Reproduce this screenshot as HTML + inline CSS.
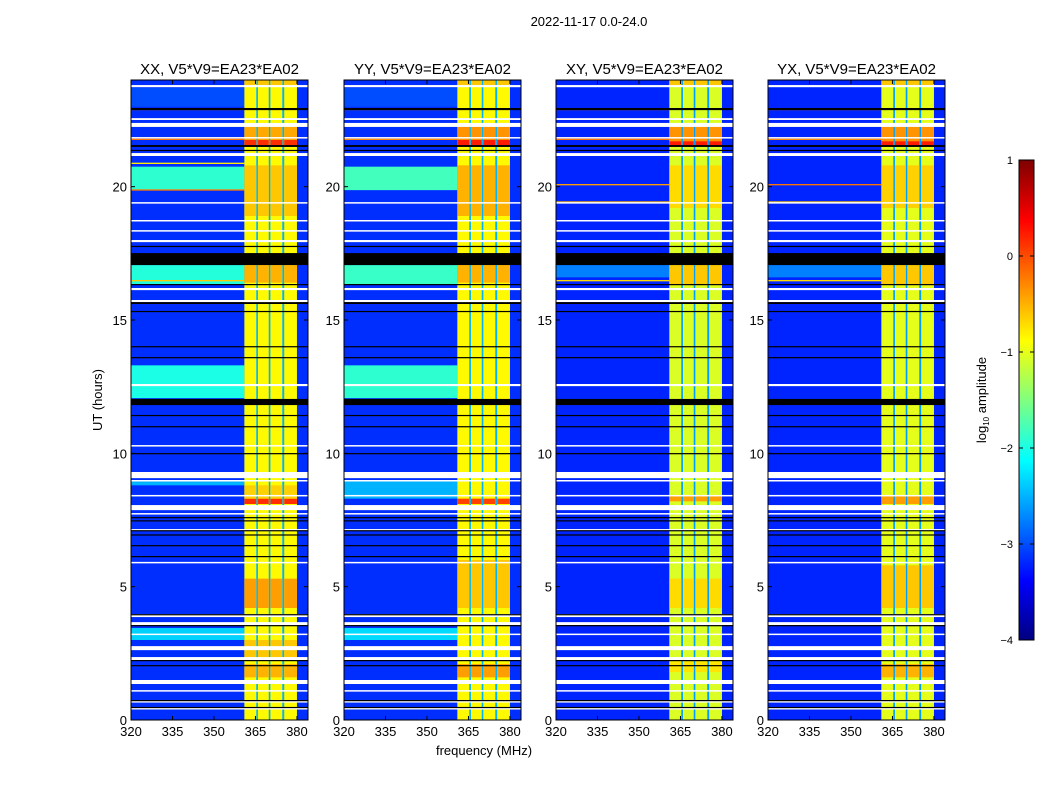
<!DOCTYPE html>
<html><head><meta charset="utf-8"><style>
body{margin:0;background:#fff;width:1050px;height:800px;overflow:hidden;font-family:"Liberation Sans","DejaVu Sans",sans-serif}
svg text{font-family:"Liberation Sans","DejaVu Sans",sans-serif}
</style></head><body>
<svg id="chart" width="1050" height="800" viewBox="0 0 1050 800" xmlns="http://www.w3.org/2000/svg">
<text x="589" y="26" font-size="13" text-anchor="middle">2022-11-17 0.0-24.0</text>
<text x="102" y="400" font-size="13" text-anchor="middle" transform="rotate(-90 102 400)">UT (hours)</text>
<text x="484" y="755" font-size="13" text-anchor="middle">frequency (MHz)</text>
<g id="panels"></g>
<g id="cbar"></g>
</svg>
<script>
// ---- data ----
const panelTitles = ["XX, V5*V9=EA23*EA02","YY, V5*V9=EA23*EA02","XY, V5*V9=EA23*EA02","YX, V5*V9=EA23*EA02"];
const panelLefts = [131,344,556,768];
const freqTicks = [320,335,350,365,380];
const timeTicks = [0,5,10,15,20];
const cbarTicks = [1,0,-1,-2,-3,-4];
// RFI sub-band frequency edges (MHz)
const rfiCols = [[361,365.3],[365.9,369.8],[370.4,374.7],[375.4,380]];
// flagged (white) time ranges, hours
const whiteRows = [[23.73,23.81],[22.5,22.57],[22.24,22.39],[21.83,21.86],[21.15,21.26],[19.38,19.42],[18.71,18.75],[18.33,18.37],[17.92,18.0],[16.12,16.2],[15.67,15.75],[12.52,12.6],[10.27,10.31],[9.07,9.3],[8.96,9.0],[8.4,8.44],[7.87,8.06],[7.72,7.76],[7.12,7.16],[5.89,5.93],[3.86,3.97],[3.56,3.67],[3.2,3.24],[2.62,2.77],[2.25,2.36],[1.35,1.5],[1.08,1.12],[0.67,0.71],[0.41,0.45]];
// black (zero) time ranges, hours
const blackRows = [[22.87,22.95],[21.49,21.56],[21.34,21.38],[17.74,17.78],[17.06,17.51],[16.31,16.35],[15.6,15.67],[15.3,15.34],[13.98,14.02],[13.57,13.61],[11.81,12.04],[11.4,11.44],[10.98,11.02],[9.97,10.01],[7.57,7.61],[7.45,7.49],[7.08,7.12],[6.92,6.96],[6.52,6.56],[6.11,6.15],[3.93,3.97],[3.52,3.56],[2.21,2.25],[2.02,2.06],[0.71,0.75],[0.45,0.49]];
// low-frequency background level per panel (log10 amplitude)
const lowBase = [-3.15,-3.15,-3.2,-3.2];
const rfiBase = [-0.85,-0.85,-1.05,-1.0];
const gapLevel = [-2.5,-2.5,-2.6,-2.6];
// low-frequency bands per panel: [t0,t1,level]
const lowBands = [
 [[23.0,23.7,-3.0],[22.87,22.92,-0.3],[21.75,21.8,-0.2],[19.87,20.75,-1.9],[19.85,19.9,-0.2],[20.85,20.9,-0.8],[16.35,17.06,-1.95],[16.45,16.5,-0.6],[12.07,13.3,-2.0],[8.8,9.0,-2.5],[3.0,3.45,-2.35]],
 [[23.0,23.7,-3.0],[22.87,22.92,-0.4],[21.75,21.8,-0.3],[19.87,20.75,-1.8],[16.35,17.06,-1.85],[12.07,13.3,-1.9],[8.3,9.0,-2.5],[3.0,3.45,-2.3]],
 [[22.87,22.92,-0.4],[21.75,21.8,-0.2],[20.05,20.1,-0.4],[19.4,19.45,-0.5],[16.45,16.5,-0.7],[16.6,17.06,-2.75]],
 [[22.87,22.92,-0.4],[21.75,21.8,-0.3],[20.05,20.1,-0.2],[19.4,19.45,-0.6],[16.45,16.5,-0.7],[16.6,17.06,-2.75]]
];
// RFI band levels per panel: [t0,t1,level]
const rfiBands = [
 [[23.8,24,-0.6],[21.5,22.3,-0.45],[21.5,21.75,0.15],[18.9,20.8,-0.6],[16.4,17.06,-0.5],[8.1,8.3,0.15],[8.3,8.8,-0.65],[4.2,5.3,-0.4],[2.3,3.0,-0.6],[1.6,2.1,-0.5]],
 [[23.8,24,-0.6],[21.5,22.3,-0.35],[21.5,21.75,0.25],[18.9,20.8,-0.5],[16.4,17.06,-0.5],[8.1,8.3,0.05],[4.2,6.0,-0.6],[1.6,2.1,-0.4]],
 [[23.8,24,-0.6],[21.5,22.3,-0.35],[21.5,21.7,0.25],[19.2,20.8,-0.7],[16.3,17.06,-0.6],[8.2,8.4,-0.4],[4.2,5.3,-0.7],[1.8,2.2,-0.75]],
 [[23.8,24,-0.6],[21.5,22.3,-0.35],[21.5,21.7,0.25],[19.2,20.8,-0.65],[16.3,17.06,-0.6],[8.1,8.4,-0.4],[4.2,5.8,-0.6],[1.6,2.1,-0.5]]
];
// ---- rendering ----
const NS="http://www.w3.org/2000/svg";
const PW=177, TOP=80, BOT=720, FMIN=320, FMAX=384, VMIN=-4, VMAX=1;
function jet(v){
 let t=(v-VMIN)/(VMAX-VMIN); t=Math.max(0,Math.min(1,t));
 const c=x=>Math.round(255*Math.max(0,Math.min(1,x)));
 const r=c(Math.min(4*t-1.5,-4*t+4.5)), g=c(Math.min(4*t-0.5,-4*t+3.5)), b=c(Math.min(4*t+0.5,-4*t+2.5));
 return `rgb(${r},${g},${b})`;
}
function mk(tag,attrs,parent){const e=document.createElementNS(NS,tag);for(const k in attrs)e.setAttribute(k,attrs[k]);parent.appendChild(e);return e;}
const yS=h=>BOT-(h/24)*(BOT-TOP);
const panelsG=document.getElementById('panels');
panelLefts.forEach((L,p)=>{
 const xS=f=>L+(f-FMIN)/(FMAX-FMIN)*PW;
 const g=mk('g',{},panelsG);
 
 
 const bg=mk('rect',{x:L,y:TOP,width:PW,height:BOT-TOP,fill:jet(lowBase[p])},g);
 
 
 lowBands[p].forEach(b=>{
  const r=mk('rect',{x:xS(FMIN),y:yS(b[1]),width:xS(361)-xS(FMIN),height:yS(b[0])-yS(b[1]),fill:jet(b[2])},g);
  
  
 });
 const gap=mk('rect',{x:xS(361),y:TOP,width:xS(380)-xS(361),height:BOT-TOP,fill:jet(gapLevel[p])},g);
 
 
 rfiCols.forEach(c=>{
  const r=mk('rect',{x:xS(c[0]),y:TOP,width:xS(c[1])-xS(c[0]),height:BOT-TOP,fill:jet(rfiBase[p])},g);
  
  
  rfiBands[p].forEach(b=>{
   const q=mk('rect',{x:xS(c[0]),y:yS(b[1]),width:xS(c[1])-xS(c[0]),height:yS(b[0])-yS(b[1]),fill:jet(b[2])},g);
   
   
  });
 });
 whiteRows.forEach(b=>{
  const r=mk('rect',{x:L,y:yS(b[1]),width:PW,height:Math.max(1.5,yS(b[0])-yS(b[1])),fill:'#fff'},g);
  
  
 });
 blackRows.forEach(b=>{
  const r=mk('rect',{x:L,y:yS(b[1]),width:PW,height:Math.max(1.2,yS(b[0])-yS(b[1])),fill:'#000'},g);
  
  
 });
 const fr=mk('rect',{x:L,y:TOP,width:PW,height:BOT-TOP,fill:'none',stroke:'#000','stroke-width':1},g);
 
 
 const t=mk('text',{x:L+PW/2,y:TOP-6,'font-size':15,'text-anchor':'middle'},g);
 t.textContent=panelTitles[p];
 
 
 freqTicks.forEach(f=>{
  mk('line',{x1:xS(f),x2:xS(f),y1:BOT,y2:BOT-4,stroke:'#000'},g);
  mk('line',{x1:xS(f),x2:xS(f),y1:TOP,y2:TOP+4,stroke:'#000'},g);
  const l=mk('text',{x:xS(f),y:BOT+16,'font-size':13,'text-anchor':'middle'},g);
  l.textContent=f;
  
  
 });
 timeTicks.forEach(h=>{
  mk('line',{x1:L,x2:L+4,y1:yS(h),y2:yS(h),stroke:'#000'},g);
  mk('line',{x1:L+PW,x2:L+PW-4,y1:yS(h),y2:yS(h),stroke:'#000'},g);
  const l=mk('text',{x:L-4,y:yS(h)+5,'font-size':13,'text-anchor':'end'},g);
  l.textContent=h;
  
  
 });
});
// colorbar
const cb=document.getElementById('cbar');


const CX=1019,CW=15,CT=160,CB=640;
const cy=v=>CB-(v-VMIN)/(VMAX-VMIN)*(CB-CT);
for(let i=0;i<240;i++){
 const v0=VMIN+(VMAX-VMIN)*i/240, v1=VMIN+(VMAX-VMIN)*(i+1)/240;
 mk('rect',{x:CX,y:cy(v1),width:CW,height:cy(v0)-cy(v1)+0.5,fill:jet((v0+v1)/2)},cb);
}
mk('rect',{x:CX,y:CT,width:CW,height:CB-CT,fill:'none',stroke:'#000'},cb);
cbarTicks.forEach(v=>{
 mk('line',{x1:CX,x2:CX+4,y1:cy(v),y2:cy(v),stroke:'#000'},cb);
 mk('line',{x1:CX+CW,x2:CX+CW-4,y1:cy(v),y2:cy(v),stroke:'#000'},cb);
 const l=mk('text',{x:CX-6,y:cy(v)+4,'font-size':11,'text-anchor':'end'},cb);
 l.textContent=(v<0?'\u2212'+(-v):v);
 
 
});
const cl=mk('text',{x:986,y:400,'font-size':13,'text-anchor':'middle',transform:'rotate(-90 986 400)'},cb);
cl.innerHTML='log<tspan font-size="8" dy="3">10</tspan><tspan dy="-3"> amplitude</tspan>';


</script>
</body></html>
